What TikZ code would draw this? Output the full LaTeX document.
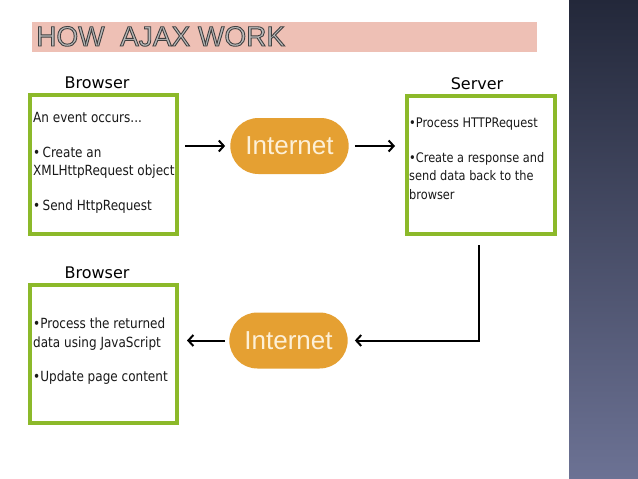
\documentclass[tikz,border=0pt]{standalone}
\usepackage{fontspec}
\setmainfont{Liberation Sans}
\newfontfamily\panelfont[FakeStretch=0.86]{DejaVu Sans}
\newfontfamily\headfont{DejaVu Sans}
\usetikzlibrary{arrows.meta,positioning,shapes.misc}
\definecolor{boxgreen}{RGB}{140,185,42}
\definecolor{netorange}{RGB}{229,160,50}
\definecolor{netcream}{RGB}{253,240,215}
\definecolor{bandpink}{RGB}{238,192,181}
\definecolor{stripdark}{RGB}{35,40,58}
\definecolor{striplight}{RGB}{108,114,148}
\newcommand{\outlinetext}[1]{\special{pdf:literal direct 2 Tr 0.9 w 0.25 G}#1\special{pdf:literal direct 0 Tr}}
\tikzset{
  panel/.style={draw=boxgreen, line width=4pt, minimum width=147pt,
    minimum height=139pt, inner sep=0pt},
  panelhead/.style={font=\headfont\fontsize{16}{20}\selectfont, inner sep=0pt, anchor=base},
  paneltext/.style={font=\panelfont\fontsize{14}{18.5}\selectfont, align=left, inner sep=0pt,
    text=black!90},
  cloud/.style={rounded rectangle, fill=netorange, minimum width=125pt,
    minimum height=56pt, text=netcream, font=\fontsize{26}{30}\selectfont},
  arr/.style={-{Straight Barb[length=5pt,width=11pt]}, line width=2pt}
}

\begin{document}
\begin{tikzpicture}[x=1pt, y=-1pt]
  \useasboundingbox (0,0) rectangle (638,479);
  \fill[white] (0,0) rectangle (638,479);
  \shade[top color=stripdark, bottom color=striplight] (569,0) rectangle (638,479);

  % title
  \fill[bandpink] (32,22) rectangle (537,52);
  \node[anchor=base west, inner sep=0pt, font=\fontsize{28}{30}\selectfont, text=gray!55]
    (title) at (36,46) {\outlinetext{HOW\ \ AJAX WORK}};

  % boxes
  \node[panel] (brw1) at (103.5,164.5) {};
  \node[panelhead] (brw1head) at (97,88) {Browser};
  \node[paneltext, below right=19.5pt and 5pt of brw1.north west] (brw1txt)
    {An event occurs...\\[16pt]•\,Create an\\XMLHttpRequest object\\[16pt]•\,Send HttpRequest};

  \node[panel, minimum width=148pt, minimum height=138pt] (srv) at (481,165) {};
  \node[panelhead] (srvhead) at (477,89) {Server};
  \node[paneltext, font=\panelfont\fontsize{13.2}{18.5}\selectfont,
    below right=24pt and 4pt of srv.north west] (srvtxt)
    {•Process HTTPRequest\\[16pt]•Create a response and\\send data back to the\\browser};

  \node[panel, minimum height=138pt] (brw2) at (103.5,354) {};
  \node[panelhead] (brw2head) at (97,278) {Browser};
  \node[paneltext, below right=35pt and 5pt of brw2.north west] (brw2txt)
    {•Process the returned\\data using JavaScript\\[16pt]•Update page content};

  % internet
  \node[cloud] (net1) at (289.5,146) {Internet};
  \node[cloud] (net2) at (288.5,340.5) {Internet};

  \draw[arr, shorten <=6pt, shorten >=5pt] (brw1.east |- net1.west) -- (net1.west);
  \draw[arr, shorten <=6pt, shorten >=10pt] (net1.east) -- (srv.west |- net1.east);
  \draw[arr, shorten >=7pt] ([xshift=-2pt,yshift=-9pt]srv.south) |- (net2.east);
  \draw[arr, shorten <=4pt, shorten >=8pt] (net2.west) -- (brw2.east |- net2.west);
\end{tikzpicture}
\end{document}
